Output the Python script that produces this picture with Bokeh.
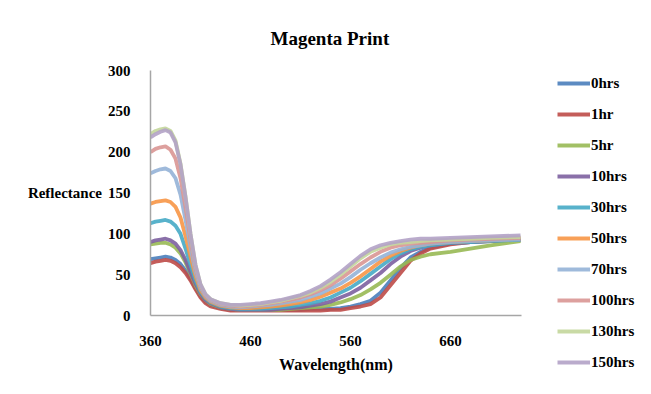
from bokeh.plotting import figure
from bokeh.models import Legend, LegendItem, Range1d, FixedTicker
from bokeh.embed import file_html
from bokeh.resources import INLINE

wavelength = [360, 365, 370, 375, 380, 385, 390, 395, 400, 405, 410, 415, 420,
              430, 440, 450, 460, 470, 480, 490, 500, 510, 520, 530, 540, 550,
              560, 570, 580, 590, 600, 610, 620, 630, 640, 660, 680, 700, 730]

hrs0 = [69, 70, 71, 72, 71, 68, 63, 55, 45, 34, 24, 17, 13,
        9, 7, 7, 7, 7, 7, 7, 7, 7, 8, 8, 8, 9,
        11, 14, 18, 28, 43, 58, 71, 78, 83, 88, 90, 91, 93]
hr1 = [64, 66, 67, 68, 67, 64, 59, 52, 43, 32, 22, 15, 11,
       8, 6, 6, 6, 6, 6, 6, 6, 6, 6, 6, 7, 7,
       9, 11, 14, 22, 37, 52, 67, 76, 82, 87, 90, 91, 93]
hr5 = [87, 88, 89, 89, 87, 83, 76, 65, 51, 37, 26, 19, 14,
       10, 8, 7, 7, 7, 7, 7, 8, 9, 10, 11, 13, 16,
       20, 25, 32, 40, 50, 60, 68, 72, 75, 78, 82, 86, 91]
hrs10 = [90, 92, 93, 94, 92, 88, 80, 68, 53, 39, 27, 19, 15,
         10, 8, 7, 7, 7, 7, 8, 9, 10, 12, 14, 17, 22,
         27, 34, 43, 52, 63, 72, 79, 83, 86, 89, 90, 92, 93]
hrs30 = [113, 115, 116, 117, 115, 110, 100, 82, 62, 43, 29, 21, 16,
         11, 9, 8, 8, 8, 9, 10, 11, 13, 15, 18, 22, 28,
         34, 42, 51, 60, 69, 76, 81, 84, 86, 89, 90, 91, 93]
hrs50 = [137, 139, 140, 141, 139, 133, 120, 97, 72, 48, 31, 22, 17,
         12, 10, 9, 9, 10, 11, 12, 14, 16, 19, 23, 28, 33,
         40, 48, 57, 66, 73, 79, 83, 86, 88, 90, 91, 92, 94]
hrs70 = [174, 177, 179, 180, 177, 168, 148, 117, 83, 53, 34, 24, 18,
         13, 11, 10, 11, 12, 13, 15, 17, 19, 23, 27, 33, 39,
         47, 56, 64, 71, 77, 81, 84, 86, 88, 90, 91, 92, 93]
hrs100 = [200, 204, 206, 207, 203, 192, 168, 132, 92, 58, 36, 25, 19,
          14, 12, 11, 12, 13, 15, 17, 19, 22, 26, 31, 37, 45,
          54, 63, 71, 78, 83, 86, 88, 89, 90, 92, 93, 94, 95]
hrs130 = [222, 226, 228, 229, 226, 214, 186, 146, 100, 62, 38, 26, 20,
          15, 13, 12, 13, 14, 16, 18, 21, 24, 28, 34, 41, 50,
          60, 70, 78, 83, 87, 89, 90, 91, 92, 93, 94, 95, 96]
hrs150 = [218, 222, 225, 227, 224, 212, 185, 145, 100, 62, 38, 26, 20,
          15, 13, 13, 14, 15, 17, 19, 22, 25, 30, 36, 44, 53,
          63, 73, 81, 86, 89, 91, 93, 94, 94, 95, 96, 97, 98]

series_names = ["0hrs", "1hr", "5hr", "10hrs", "30hrs", "50hrs", "70hrs",
                "100hrs", "130hrs", "150hrs"]
series_values = [hrs0, hr1, hr5, hrs10, hrs30, hrs50, hrs70, hrs100, hrs130, hrs150]
colors = ["#4a7ebb", "#be4b48", "#98b954", "#7d60a0", "#46aac5", "#f79646",
          "#95b3d7", "#d99694", "#c3d69b", "#b3a2c7"]

x_ticks = [360, 460, 560, 660]
y_ticks = [0, 50, 100, 150, 200, 250, 300]

FONT = "Liberation Serif"
TXT = "#000000"

p = figure(frame_width=371, frame_height=245, output_backend="svg",
           toolbar_location=None,
           x_range=Range1d(360, 731), y_range=Range1d(0, 300),
           min_border_left=150, min_border_right=130, min_border_top=70,
           min_border_bottom=79)
p.outline_line_color = None
p.xgrid.visible = False
p.ygrid.visible = False

p.title.text = "Magenta Print"
p.title.align = "left"
p.title.offset = 120
p.title.text_font = FONT
p.title.text_font_style = "bold"
p.title.text_font_size = "19px"
p.title.text_color = TXT
p.title.standoff = 44

renderers = []
for name, vals, c in zip(series_names, series_values, colors):
    r = p.line(wavelength, vals, line_color=c, line_width=3.8, line_alpha=0.9)
    renderers.append((name, r))

for ax in (p.xaxis[0], p.yaxis[0]):
    ax.axis_line_color = "#a6a6a6"
    ax.axis_line_width = 1.5
    ax.major_tick_line_color = None
    ax.minor_tick_line_color = None
    ax.major_label_text_font = FONT
    ax.major_label_text_font_style = "bold"
    ax.major_label_text_font_size = "15px"
    ax.major_label_text_color = TXT
    ax.axis_label_text_font = FONT
    ax.axis_label_text_font_style = "bold"
    ax.axis_label_text_font_size = "15px"
    ax.axis_label_text_color = TXT

p.xaxis.ticker = FixedTicker(ticks=x_ticks)
p.yaxis.ticker = FixedTicker(ticks=y_ticks)
p.xaxis.major_label_standoff = 14
p.yaxis.major_label_standoff = 14
p.xaxis.axis_label = "Wavelength(nm)"
p.xaxis.axis_label_text_font_size = "16px"
p.xaxis.axis_label_standoff = 7
p.yaxis.axis_label = "Reflectance"
p.yaxis.axis_label_orientation = "horizontal"
p.yaxis.axis_label_standoff = 3

legend = Legend(items=[LegendItem(label=n, renderers=[r]) for n, r in renderers],
                location=(36, -57), glyph_width=33, glyph_height=20,
                label_standoff=1, spacing=11, padding=0, margin=0,
                border_line_color=None, background_fill_alpha=0,
                label_text_font=FONT, label_text_font_style="bold",
                label_text_font_size="15px", label_text_color=TXT,
                label_height=20)
p.add_layout(legend, "right")

open("out.html", "w").write(file_html(p, INLINE))
